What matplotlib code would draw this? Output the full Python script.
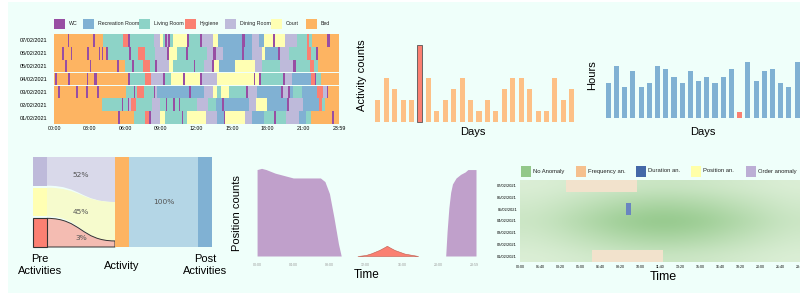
import matplotlib.pyplot as plt
import numpy as np
from matplotlib.colors import LinearSegmentedColormap
from matplotlib.patches import PathPatch, Rectangle
from matplotlib.path import Path

W, H = 800, 295
BG = "#effffa"
plt.rcParams["font.family"] = ["Liberation Sans", "DejaVu Sans"]

# --- dane ---
days = ["01/02/2021", "02/02/2021", "03/02/2021", "04/02/2021",
        "05/02/2021", "06/02/2021", "07/02/2021"]
room_names = ["WC", "Recreation Room", "Living Room", "Hygiene", "Dining Room", "Court", "Bed"]
room_codes = ["W", "R", "L", "H", "D", "C", "B"]
room_colors = ["#984ea3", "#80b1d3", "#8dd3c7", "#fb8072", "#bebada", "#ffffb3", "#fdb462"]

# (start hour, room) per day
day01 = [(0, "B"), (5.4, "W"), (5.55, "B"), (6.7, "L"), (7.7, "H"), (8.0, "W"), (8.15, "D"),
         (8.95, "C"), (9.35, "L"), (10.75, "W"), (10.9, "L"), (11.2, "C"), (12.8, "D"),
         (13.7, "R"), (14.3, "W"), (14.4, "C"), (16.05, "D"), (16.65, "R"), (17.7, "L"),
         (18.55, "W"), (18.7, "L"), (19.55, "D"), (20.65, "R"), (21.25, "L"), (21.6, "B"),
         (23.4, "W"), (23.55, "B")]
day02 = [(0, "B"), (4.0, "L"), (5.7, "W"), (5.85, "L"), (6.2, "W"), (6.3, "D"), (6.5, "H"),
         (6.9, "L"), (8.25, "D"), (8.95, "L"), (9.4, "W"), (9.55, "L"), (10.05, "W"),
         (10.2, "L"), (10.5, "W"), (10.62, "L"), (12.0, "D"), (13.0, "L"), (13.65, "R"),
         (14.15, "W"), (14.3, "R"), (16.4, "D"), (17.0, "C"), (17.9, "R"), (19.65, "W"),
         (19.8, "D"), (20.95, "R"), (22.3, "H"), (22.55, "L"), (22.85, "B")]
day03 = [(0, "B"), (0.35, "W"), (0.5, "B"), (1.85, "W"), (2.0, "B"), (2.7, "W"), (2.85, "B"),
         (3.6, "W"), (3.75, "B"), (6.1, "L"), (6.75, "W"), (6.85, "L"), (7.0, "H"),
         (7.55, "L"), (8.4, "W"), (8.5, "D"), (8.65, "R"), (11.4, "W"), (11.55, "R"),
         (12.65, "D"), (13.4, "C"), (13.7, "L"), (14.1, "C"), (14.7, "L"), (16.2, "W"),
         (16.32, "D"), (17.1, "R"), (19.1, "W"), (19.25, "D"), (19.7, "W"), (19.85, "R"),
         (20.15, "L"), (20.85, "R"), (22.15, "H"), (22.65, "D"), (22.95, "W"), (23.1, "B")]
day04 = [(0, "B"), (0.1, "W"), (0.22, "B"), (1.2, "W"), (1.35, "B"), (2.75, "W"), (2.9, "B"),
         (3.35, "W"), (3.6, "B"), (6.25, "W"), (6.4, "L"), (7.65, "H"), (8.15, "D"),
         (9.2, "W"), (9.35, "L"), (9.85, "C"), (10.9, "W"), (11.0, "C"), (12.3, "W"),
         (12.45, "D"), (13.7, "C"), (16.8, "W"), (16.95, "C"), (17.3, "W"), (17.45, "L"),
         (19.25, "W"), (19.45, "D"), (20.0, "R"), (21.6, "H"), (22.0, "W"), (22.1, "L"),
         (22.45, "B")]
day05 = [(0, "B"), (0.95, "W"), (1.08, "B"), (3.0, "W"), (3.1, "B"), (5.3, "W"), (5.45, "B"),
         (6.0, "L"), (6.55, "W"), (6.7, "L"), (7.5, "H"), (8.1, "L"), (8.5, "W"), (8.65, "D"),
         (9.65, "C"), (10.05, "L"), (11.75, "W"), (11.9, "L"), (12.6, "D"), (13.3, "W"),
         (13.45, "C"), (13.9, "R"), (15.25, "C"), (16.95, "D"), (17.5, "L"), (19.05, "D"),
         (20.15, "W"), (20.35, "L"), (21.55, "H"), (21.9, "L"), (22.25, "B")]
day06 = [(0, "B"), (0.65, "W"), (0.8, "B"), (1.4, "W"), (1.55, "B"), (2.8, "W"), (2.95, "B"),
         (3.75, "W"), (3.9, "B"), (4.0, "W"), (4.15, "B"), (4.4, "W"), (4.55, "L"),
         (6.3, "W"), (6.45, "L"), (7.1, "H"), (7.65, "L"), (8.5, "D"), (9.5, "W"),
         (9.65, "C"), (10.35, "L"), (11.1, "W"), (11.25, "L"), (12.9, "D"), (13.4, "W"),
         (13.6, "D"), (14.2, "R"), (15.8, "W"), (16.0, "R"), (16.65, "D"), (17.55, "C"),
         (17.75, "R"), (18.9, "W"), (19.05, "D"), (19.8, "L"), (21.3, "H"), (21.65, "L"),
         (22.05, "W"), (22.25, "B")]
day07 = [(0, "B"), (1.15, "W"), (1.3, "B"), (3.26, "W"), (3.43, "B"), (4.15, "L"), (5.8, "H"),
         (6.2, "W"), (6.4, "L"), (8.4, "D"), (8.9, "C"), (9.2, "L"), (9.35, "W"), (9.5, "D"),
         (9.6, "W"), (9.75, "L"), (10.0, "C"), (11.2, "W"), (11.4, "L"), (12.3, "W"),
         (12.5, "D"), (13.4, "C"), (13.85, "R"), (15.8, "W"), (16.05, "R"), (16.65, "D"),
         (17.3, "R"), (17.65, "C"), (18.4, "W"), (18.6, "C"), (19.45, "D"), (20.5, "L"),
         (21.3, "H"), (21.5, "L"), (21.7, "B"), (23.0, "W"), (23.2, "B")]
timeline = [day01, day02, day03, day04, day05, day06, day07]

activity_counts = [2, 4, 3, 2, 2, 7, 4, 1, 2, 3, 4, 2, 1, 2, 1, 3, 4, 4, 3, 1, 1, 4, 2, 3]
activity_anomaly = 5
sleep_hours = [6.2, 9.3, 5.5, 8.4, 5.5, 6.2, 9.3, 8.8, 7.3, 6.2, 8.4, 6.6,
               7.3, 6.2, 7.3, 8.8, 1.1, 10.0, 6.6, 8.4, 8.8, 6.2, 5.5, 10.0]
sleep_anomaly = 16

pre_share = [52, 45, 3]
pre_colors = ["#bebada", "#ffffb3", "#fb8072"]
pre_link_colors = ["#d9d9ea", "#f6fbcd", "#f4bcb2"]
post_share = 100

bed_t1 = [0, 0.5, 1, 2, 3, 4, 5, 6, 7, 7.5, 8, 8.5, 9, 9.3]
bed_c1 = [7.2, 7.3, 7.2, 6.9, 6.7, 6.5, 6.5, 6.5, 6.5, 6.2, 5.2, 3.2, 1.0, 0.0]
hyg_t = [11.1, 12.0, 12.6, 13.5, 14.0, 14.35, 14.7, 15.2, 16.3, 17.8]
hyg_c = [0.0, 0.08, 0.22, 0.5, 0.7, 0.85, 0.7, 0.5, 0.2, 0.0]
bed_t2 = [20.85, 21.0, 21.2, 21.4, 21.6, 22.0, 22.5, 23.0, 23.3, 24.2]
bed_c2 = [0.0, 2.0, 4.0, 5.3, 6.0, 6.5, 6.8, 7.0, 7.2, 7.2]

anomaly_names = ["No Anomaly", "Frequency an.", "Duration an.", "Position an.", "Order anomaly"]
anomaly_colors = ["#93c88a", "#f5c08e", "#4468a8", "#ffffa8", "#bcaed5"]
normal_row_w = [0.3, 0.55, 0.8, 1.0, 0.8, 0.55, 0.3]
normal_col_w = [0.3, 0.4, 0.55, 0.7, 0.85, 0.95, 1.0, 0.95, 0.85, 0.7, 0.55, 0.4, 0.3]
freq_anomalies = [(6, 230, 585), (0, 360, 714)]   # (day row, start min, end min)
dur_anomalies = [(4, 530, 555)]


def px_axes(fig, l, t, r, b):
    ax = fig.add_axes([l / W, 1 - b / H, (r - l) / W, (b - t) / H])
    ax.set_facecolor("none")
    for s in ax.spines.values():
        s.set_visible(False)
    return ax


def link(ax, x0, y0a, y0b, x1, y1a, y1b, color, **kw):
    xm = (x0 + x1) / 2
    verts = [(x0, y0a), (xm, y0a), (xm, y1a), (x1, y1a), (x1, y1b),
             (xm, y1b), (xm, y0b), (x0, y0b), (x0, y0a)]
    codes = [Path.MOVETO, Path.CURVE4, Path.CURVE4, Path.CURVE4, Path.LINETO,
             Path.CURVE4, Path.CURVE4, Path.CURVE4, Path.CLOSEPOLY]
    ax.add_patch(PathPatch(Path(verts, codes), facecolor=color, **kw))


fig = plt.figure(figsize=(W / 100, H / 100), dpi=100, facecolor="white")

ov = fig.add_axes([0, 0, 1, 1])
ov.set_xlim(0, W)
ov.set_ylim(H, 0)
ov.axis("off")
ov.set_zorder(-1)
ov.add_patch(Rectangle((8, 2), W - 8, 291, color=BG, lw=0))

# --- 1: oś czasu pomieszczeń ---
ax1 = px_axes(fig, 54, 34, 339, 124)
col_of = dict(zip(room_codes, room_colors))
for row, segs in enumerate(timeline):
    starts = [s for s, _ in segs]
    ends = starts[1:] + [24]
    ax1.barh([row] * len(segs), np.subtract(ends, starts), left=starts, height=0.97,
             color=[col_of[c] for _, c in segs], lw=0)
ax1.set_xlim(0, 24)
ax1.set_ylim(-0.5, 6.5)
ax1.set_xticks(range(0, 25, 3))
ax1.set_xticklabels([f"{h:02d}:00" for h in range(0, 24, 3)] + ["23:59"], fontsize=3.8)
ax1.set_yticks(range(7))
ax1.set_yticklabels(days, fontsize=4)
ax1.tick_params(length=0, pad=1.5)
ax1.tick_params(axis="y", pad=5)

leg_x = [54, 83, 139, 185, 225, 271, 306]
for x, name, c in zip(leg_x, room_names, room_colors):
    ov.add_patch(Rectangle((x, 18.5), 11, 10, color=c, lw=0))
    ov.text(x + 15, 23.5, name, fontsize=3.8, va="center", color="#222")

# --- 2: liczba aktywności ---
ax2 = px_axes(fig, 373.5, 30, 576, 124.2)
xs = np.arange(len(activity_counts))
cols = ["#fb8072" if i == activity_anomaly else "#fdc086" for i in xs]
edges = ["#555555" if i == activity_anomaly else "none" for i in xs]
ax2.bar(xs, activity_counts, width=0.6, color=cols, edgecolor=edges, lw=0.6)
ax2.set_xlim(-0.5, 23.5)
ax2.set_ylim(-0.2, 8.36)
ax2.set_xticks([])
ax2.set_yticks([])
ov.text(362, 75, "Activity counts", rotation=90, fontsize=8, ha="center", va="center")
ov.text(473, 132, "Days", fontsize=8, ha="center", va="center")

# --- 3: godziny snu ---
ax3 = px_axes(fig, 604.2, 50, 801.2, 118)
xs = np.arange(len(sleep_hours))
cols = ["#fb8072" if i == sleep_anomaly else "#80b1d3" for i in xs]
ax3.bar(xs, sleep_hours, width=0.62, color=cols, lw=0)
ax3.set_xlim(-0.5, 23.5)
ax3.set_ylim(0, 12.14)
ax3.set_xticks([])
ax3.set_yticks([])
ov.text(592, 75, "Hours", rotation=90, fontsize=8, ha="center", va="center")
ov.text(703, 132, "Days", fontsize=8, ha="center", va="center")

# --- 4: sankey ---
top, bot = 157, 247
gap = 2
nh = (bot - top - 2 * gap) / 3
disp = np.maximum(pre_share, 7)
widths = disp / disp.sum() * (bot - top)
ry = top
for i, (p, c, lc) in enumerate(zip(pre_share, pre_colors, pre_link_colors)):
    y0a = top + i * (nh + gap)
    y0b = y0a + nh
    y1a, y1b = ry, ry + widths[i]
    ry = y1b
    red = i == 2
    link(ov, 47, y0a, y0b, 115, y1a, y1b, lc,
         edgecolor="#333333" if red else "none", lw=0.7 if red else 0)
    ov.add_patch(Rectangle((33, y0a), 14, nh, facecolor=c,
                           edgecolor="#333333" if red else "none", lw=0.8 if red else 0))
    ym = ((y0a + y0b) / 2 + (y1a + y1b) / 2) / 2
    ov.text(81, ym, f"{p}%", fontsize=5.4, family="DejaVu Sans", color="#555",
            ha="center", va="center")
ov.add_patch(Rectangle((115, top), 14, bot - top, color="#fdb462", lw=0))
link(ov, 129, top, bot, 198, top, bot, "#b4d6e6", lw=0)
ov.add_patch(Rectangle((198, top), 14, bot - top, color="#80b1d3", lw=0))
ov.text(163.5, 202, f"{post_share}%", fontsize=5.4, family="DejaVu Sans", color="#555",
        ha="center", va="center")
ov.text(40, 265, "Pre\nActivities", fontsize=8, ha="center", va="center", linespacing=1.3)
ov.text(122, 266, "Activity", fontsize=8, ha="center", va="center")
ov.text(205, 265, "Post\nActivities", fontsize=8, ha="center", va="center", linespacing=1.3)

# --- 5: gęstość pozycji ---
ax4 = px_axes(fig, 253, 165, 476, 256)
ax4.fill_between(bed_t1, bed_c1, color="#c0a0cb", lw=0)
ax4.fill_between(hyg_t, hyg_c, color="#fa8072", edgecolor="#c05a4c", lw=0.4)
ax4.fill_between(bed_t2, bed_c2, color="#c0a0cb", lw=0)
ax4.set_xlim(-0.45, 24.2)
ax4.set_ylim(0, 7.58)
ax4.set_yticks([])
ax4.set_xticks([0, 4, 8, 12, 16, 20, 23.98])
ax4.set_xticklabels(["00:00", "04:00", "08:00", "12:00", "16:00", "20:00", "23:59"],
                    fontsize=2.6, color="#999999")
ax4.tick_params(length=0, pad=5)
ov.text(237, 213, "Position counts", rotation=90, fontsize=8, ha="center", va="center")
ov.text(367, 275, "Time", fontsize=8.5, ha="center", va="center")

# --- 6: anomalie ---
ax5 = px_axes(fig, 520, 180, 808, 262)
cmap = LinearSegmentedColormap.from_list("g", ["#e2f2dd", "#93c88a"])
field = np.outer(normal_row_w, normal_col_w)
ax5.imshow(field, cmap=cmap, vmin=0, vmax=1, aspect="auto", origin="lower",
           interpolation="bicubic", extent=(0, 1440, -0.5, 6.5))
for r, s, e in freq_anomalies:
    ax5.barh(r, e - s, left=s, height=1.0, color="#f2e2cc", lw=0)
for r, s, e in dur_anomalies:
    ax5.barh(r, e - s, left=s, height=1.0, color="#6a85c0", lw=0)
ax5.set_xlim(0, 1440)
ax5.set_ylim(-0.5, 6.5)
ticks = list(range(0, 1440, 100))
ax5.set_xticks(ticks)
ax5.set_xticklabels([f"{m // 60:02d}:{m % 60:02d}" for m in ticks], fontsize=2.6)
ax5.set_yticks(range(7))
ax5.set_yticklabels(days, fontsize=2.9)
ax5.tick_params(length=0, pad=2)
ov.text(663, 277, "Time", fontsize=9, ha="center", va="center")

leg_x = [521, 576, 636, 691, 746]
for x, name, c in zip(leg_x, anomaly_names, anomaly_colors):
    ov.add_patch(Rectangle((x, 165.5), 9.5, 11, color=c, lw=0))
    ov.text(x + 12, 171, name, fontsize=4.2, va="center", color="#222")

fig.savefig("out.png", dpi=100)
